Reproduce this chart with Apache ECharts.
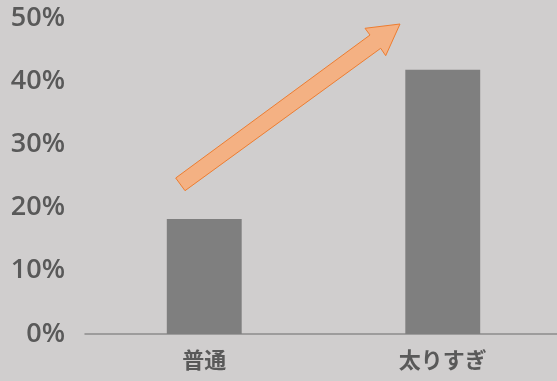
<!DOCTYPE html>
<html>
<head>
<meta charset="utf-8">
<script src="https://cdn.jsdelivr.net/npm/echarts@6/dist/echarts.min.js"></script>
<style>
  html, body { margin: 0; padding: 0; background: #D0CECE; overflow: hidden; }
  #chart { width: 566px; height: 381px; }
</style>
</head>
<body>
<div id="chart"></div>
<script>
// Share of respondents per body-type group
const categories = ['普通', '太りすぎ'];
const shares = [18.2, 41.8];
const yTicks = [0, 10, 20, 30, 40, 50];

const chart = echarts.init(document.getElementById('chart'), null, { renderer: 'canvas' });

chart.setOption({
  backgroundColor: '#D0CECE',
  animation: false,
  grid: { left: 85, top: 18, width: 477, bottom: 47, containLabel: false },
  xAxis: {
    type: 'category',
    data: categories,
    axisLine: { show: true, lineStyle: { color: '#8C8C8C', width: 1.5 } },
    axisTick: { show: false },
    axisLabel: {
      color: '#595959', fontSize: 22, fontWeight: 'bold',
      fontFamily: '"Noto Sans CJK JP", sans-serif', margin: 15
    }
  },
  yAxis: {
    type: 'value',
    min: yTicks[0],
    max: yTicks[yTicks.length - 1],
    interval: 10,
    axisLine: { show: false },
    axisTick: { show: false },
    splitLine: { show: false },
    axisLabel: {
      color: '#595959', fontSize: 27, fontWeight: 600,
      fontFamily: '"Open Sans", sans-serif', margin: 20,
      formatter: v => v + '%'
    }
  },
  series: [{
    type: 'bar',
    data: shares,
    barWidth: '31.4%',
    itemStyle: { color: '#7F7F7F' }
  }],
  graphic: [{
    // upward trend arrow
    type: 'polygon',
    z: 10,
    shape: {
      points: [
        [175.7, 178], [370, 35], [365, 28.3], [400, 24],
        [385.7, 55.7], [380.7, 48.3], [185, 190.7]
      ]
    },
    style: { fill: '#F4B183', stroke: '#ED7D31', lineWidth: 1 }
  }]
});
</script>
</body>
</html>
